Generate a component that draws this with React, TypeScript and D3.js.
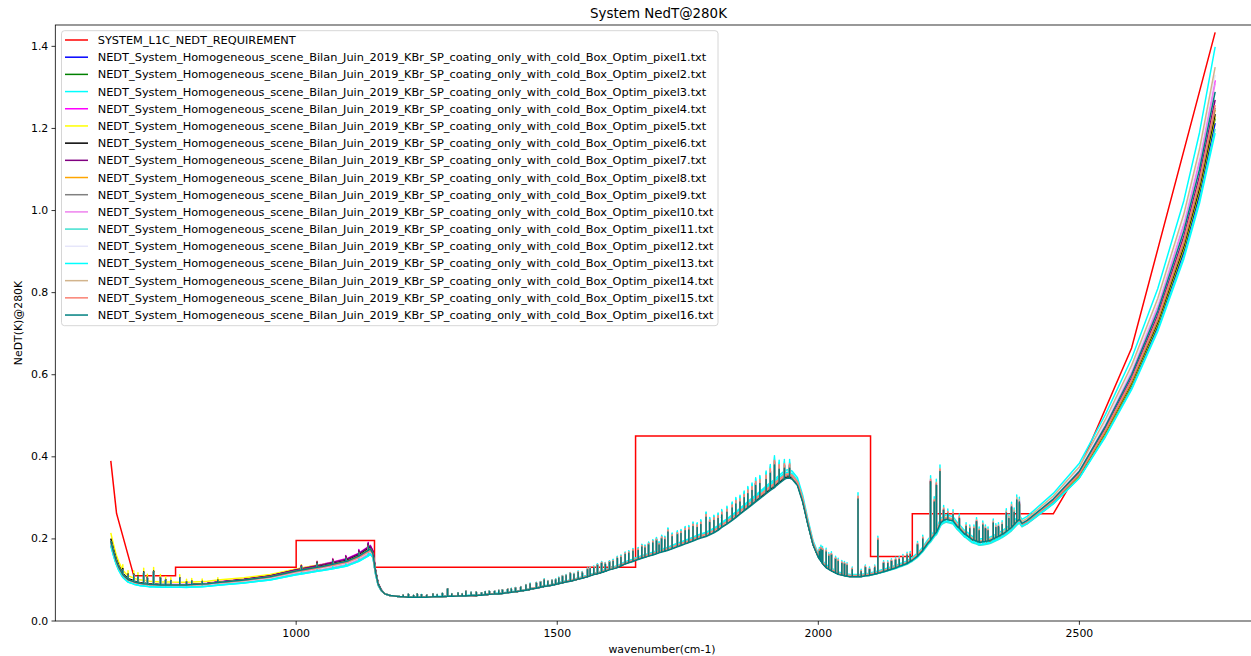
import React from "react";
import * as d3 from "d3";

// ---------- DATA ----------
const REQUIREMENT: [number, number][] = [
  [645, 0.39], [656, 0.262], [689, 0.11], [769, 0.11], [769, 0.131], [1000, 0.131],
  [1000, 0.196], [1150, 0.196], [1150, 0.131], [1650, 0.131], [1650, 0.451],
  [2100, 0.451], [2100, 0.157], [2180, 0.157], [2180, 0.261], [2450, 0.261],
  [2500, 0.37], [2600, 0.665], [2760, 1.434],
];

// smooth part of the pixel16 (teal) curve
const BASE: [number, number][] = [
  [645, 0.195], [650, 0.17], [655, 0.148], [660, 0.132], [665, 0.12], [672, 0.108],
  [680, 0.1], [690, 0.095], [700, 0.092], [720, 0.089], [740, 0.088], [760, 0.088],
  [780, 0.088], [800, 0.089], [830, 0.091], [860, 0.095], [900, 0.1], [950, 0.108],
  [1000, 0.122], [1050, 0.133], [1080, 0.141], [1100, 0.147], [1120, 0.158],
  [1135, 0.17], [1142, 0.176], [1147, 0.165], [1152, 0.12], [1157, 0.09],
  [1163, 0.075], [1170, 0.066], [1180, 0.062], [1200, 0.059], [1250, 0.058],
  [1300, 0.06], [1350, 0.063], [1400, 0.068], [1450, 0.078], [1500, 0.09],
  [1550, 0.105], [1600, 0.125], [1650, 0.148], [1700, 0.168], [1750, 0.19],
  [1800, 0.215], [1850, 0.26], [1900, 0.31], [1920, 0.33], [1940, 0.348],
  [1950, 0.345], [1960, 0.33], [1970, 0.29], [1980, 0.235], [1990, 0.185],
  [2000, 0.155], [2010, 0.137], [2025, 0.122], [2040, 0.113], [2060, 0.108],
  [2080, 0.108], [2100, 0.112], [2130, 0.122], [2160, 0.135], [2180, 0.148],
  [2195, 0.165], [2210, 0.19], [2225, 0.215], [2235, 0.24], [2245, 0.248],
  [2255, 0.245], [2265, 0.232], [2280, 0.212], [2295, 0.198], [2310, 0.192],
  [2330, 0.197], [2350, 0.21], [2370, 0.228], [2385, 0.248], [2390, 0.238],
  [2400, 0.245], [2450, 0.297], [2500, 0.365], [2550, 0.475], [2600, 0.6],
  [2650, 0.755], [2700, 0.95], [2730, 1.1], [2760, 1.289],
];

// absorption spikes on the teal curve: [wavenumber, foot, peak]
const SPIKES: [number, number, number][] = [
  [668, 0.113, 0.125], [678, 0.101, 0.112], [689, 0.096, 0.112], [697, 0.093, 0.108],
  [708, 0.091, 0.118], [715, 0.09, 0.105], [727, 0.089, 0.12], [740, 0.088, 0.105],
  [750, 0.088, 0.1], [760, 0.088, 0.098], [777, 0.088, 0.105], [790, 0.088, 0.095],
  [800, 0.089, 0.097], [820, 0.09, 0.096], [850, 0.094, 0.099],
  [1010, 0.124, 0.132], [1040, 0.131, 0.14], [1070, 0.138, 0.146], [1095, 0.145, 0.153],
  [1120, 0.158, 0.166], [1138, 0.172, 0.183],
  [1205, 0.059, 0.063], [1215, 0.058, 0.065], [1225, 0.058, 0.062], [1232, 0.058, 0.066],
  [1240, 0.058, 0.064], [1250, 0.058, 0.063], [1262, 0.059, 0.066], [1270, 0.059, 0.064],
  [1280, 0.059, 0.067], [1290, 0.06, 0.078], [1298, 0.06, 0.066], [1310, 0.061, 0.068],
  [1318, 0.061, 0.066], [1325, 0.061, 0.072], [1335, 0.062, 0.069], [1345, 0.062, 0.07],
  [1355, 0.063, 0.068], [1362, 0.064, 0.071], [1370, 0.065, 0.072], [1380, 0.066, 0.072],
  [1388, 0.066, 0.074], [1395, 0.067, 0.075], [1405, 0.069, 0.077], [1412, 0.07, 0.078],
  [1420, 0.071, 0.08], [1430, 0.073, 0.082], [1440, 0.075, 0.087], [1448, 0.077, 0.09],
  [1460, 0.08, 0.092], [1468, 0.082, 0.094], [1475, 0.084, 0.1], [1482, 0.085, 0.096],
  [1490, 0.087, 0.098], [1497, 0.089, 0.1], [1503, 0.091, 0.104], [1510, 0.093, 0.108],
  [1517, 0.095, 0.11], [1525, 0.097, 0.115], [1532, 0.099, 0.113], [1540, 0.102, 0.118],
  [1548, 0.104, 0.117], [1558, 0.108, 0.125], [1563, 0.11, 0.127], [1570, 0.113, 0.13],
  [1577, 0.115, 0.135], [1585, 0.118, 0.14], [1592, 0.121, 0.138], [1600, 0.125, 0.142],
  [1607, 0.127, 0.145], [1615, 0.13, 0.152], [1622, 0.134, 0.155], [1630, 0.139, 0.162],
  [1637, 0.142, 0.165], [1645, 0.145, 0.17], [1655, 0.15, 0.172], [1662, 0.153, 0.18],
  [1668, 0.155, 0.178], [1675, 0.158, 0.185], [1683, 0.161, 0.19], [1690, 0.164, 0.195],
  [1695, 0.166, 0.185], [1700, 0.168, 0.2], [1706, 0.17, 0.198], [1712, 0.172, 0.217],
  [1720, 0.176, 0.205], [1730, 0.181, 0.21], [1737, 0.184, 0.213], [1745, 0.188, 0.22],
  [1752, 0.191, 0.222], [1760, 0.195, 0.23], [1768, 0.199, 0.228], [1775, 0.202, 0.235],
  [1785, 0.206, 0.253], [1792, 0.21, 0.24], [1800, 0.215, 0.245], [1808, 0.221, 0.25],
  [1815, 0.228, 0.258], [1825, 0.236, 0.265], [1835, 0.245, 0.275], [1842, 0.252, 0.285],
  [1850, 0.26, 0.29], [1858, 0.268, 0.3], [1865, 0.275, 0.31], [1873, 0.283, 0.318],
  [1880, 0.29, 0.33], [1888, 0.298, 0.335], [1900, 0.31, 0.345], [1908, 0.318, 0.36],
  [1916, 0.325, 0.38], [1925, 0.335, 0.37], [1935, 0.345, 0.372], [1945, 0.348, 0.372],
  [2002, 0.151, 0.17], [2005, 0.146, 0.175], [2008, 0.14, 0.172], [2015, 0.13, 0.168],
  [2020, 0.126, 0.158], [2025, 0.122, 0.16], [2033, 0.117, 0.15], [2038, 0.114, 0.145],
  [2045, 0.112, 0.14], [2050, 0.11, 0.138], [2055, 0.109, 0.135], [2065, 0.108, 0.125],
  [2076, 0.108, 0.297], [2082, 0.108, 0.12], [2090, 0.11, 0.13], [2098, 0.111, 0.125],
  [2108, 0.114, 0.13], [2114, 0.116, 0.197], [2125, 0.12, 0.14], [2133, 0.123, 0.14],
  [2140, 0.126, 0.145], [2148, 0.129, 0.148], [2155, 0.133, 0.15], [2162, 0.136, 0.155],
  [2170, 0.14, 0.16], [2176, 0.145, 0.162], [2190, 0.158, 0.185], [2200, 0.172, 0.2],
  [2215, 0.197, 0.339], [2222, 0.21, 0.29], [2226, 0.215, 0.331], [2233, 0.235, 0.364],
  [2240, 0.245, 0.27], [2248, 0.247, 0.262], [2258, 0.244, 0.26], [2270, 0.226, 0.25],
  [2283, 0.21, 0.23], [2290, 0.203, 0.225], [2298, 0.197, 0.225], [2303, 0.195, 0.242],
  [2308, 0.192, 0.22], [2315, 0.193, 0.234], [2320, 0.194, 0.225], [2325, 0.195, 0.22],
  [2335, 0.2, 0.239], [2340, 0.203, 0.228], [2345, 0.206, 0.23], [2352, 0.211, 0.235],
  [2360, 0.218, 0.263], [2365, 0.223, 0.25], [2370, 0.228, 0.278], [2375, 0.235, 0.265],
  [2380, 0.242, 0.295], [2385, 0.248, 0.29],
];

// per-pixel ratio to the teal curve at these wavenumbers
const FACTOR_AT = [645, 800, 1140, 1170, 1900, 2300, 2400, 2550, 2760];
const PIXEL_FACTORS: number[][] = [
  [1.0, 1.0, 1.01, 1.0, 1.02, 1.0, 0.97, 0.955, 0.941],
  [1.0, 1.0, 1.01, 1.0, 1.02, 1.0, 0.975, 0.962, 0.95],
  [0.95, 0.93, 0.92, 1.0, 1.06, 1.04, 1.04, 1.06, 1.085],
  [1.0, 1.01, 1.05, 1.0, 1.02, 1.01, 1.01, 1.015, 1.022],
  [1.1, 1.07, 1.02, 1.0, 1.02, 1.0, 0.975, 0.965, 0.954],
  [1.03, 1.0, 1.03, 1.0, 1.01, 1.0, 0.98, 0.97, 0.958],
  [1.0, 1.0, 1.04, 1.0, 1.02, 1.0, 0.99, 0.988, 0.985],
  [1.0, 1.0, 1.0, 1.0, 1.02, 1.0, 0.98, 0.973, 0.966],
  [0.98, 0.98, 0.96, 1.0, 1.02, 1.0, 0.985, 0.978, 0.97],
  [0.98, 0.97, 0.95, 1.0, 1.03, 1.01, 1.005, 1.01, 1.016],
  [0.95, 0.94, 0.93, 1.0, 1.04, 0.96, 0.965, 0.95, 0.93],
  [0.98, 0.98, 0.97, 1.0, 1.03, 1.01, 1.01, 1.02, 1.032],
  [0.94, 0.93, 0.92, 1.0, 1.05, 0.97, 0.975, 0.945, 0.922],
  [0.99, 0.99, 0.98, 1.0, 1.03, 1.02, 1.02, 1.035, 1.047],
  [0.99, 0.99, 0.98, 1.0, 1.03, 1.01, 0.99, 0.982, 0.975],
  [1, 1, 1, 1, 1, 1, 1, 1, 1],
];
const PIXEL_COLORS = [
  "#0000ff", "#008000", "#00ffff", "#ff00ff", "#ffff00", "#000000", "#800080", "#ffa500",
  "#808080", "#ee82ee", "#40e0d0", "#e6e6fa", "#00ffff", "#d2b48c", "#fa8072", "#008080",
];
const REQ_LABEL = "SYSTEM_L1C_NEDT_REQUIREMENT";
const PIXEL_LABELS = PIXEL_COLORS.map(
  (_, i) => `NEDT_System_Homogeneous_scene_Bilan_Juin_2019_KBr_SP_coating_only_with_cold_Box_Optim_pixel${i + 1}.txt`
);
const X_TICKS = [1000, 1500, 2000, 2500];
const Y_TICKS = [0, 0.2, 0.4, 0.6, 0.8, 1.0, 1.2, 1.4];

// ---------- LAYOUT ----------
const W = 1251, H = 656;
const L = 55.3, R = 1270.4, T = 25, B = 621;
const FONT = "DejaVu Sans";

export default function App() {
  const x = d3.scaleLinear().domain([538.7, 2865.8]).range([L, R]);
  const y = d3.scaleLinear().domain([0, 1.452]).range([B, T]);
  const line = d3.line<[number, number]>().x(d => x(d[0])).y(d => y(d[1]));

  const merged = [
    ...BASE.map(([w, v]) => ({ w, v, o: 0 })),
    ...SPIKES.flatMap(([w, lo, hi]) => [
      { w, v: lo, o: 1 }, { w, v: hi, o: 2 }, { w, v: lo, o: 3 },
    ]),
  ].sort((a, b) => a.w - b.w || a.o - b.o);

  const series = PIXEL_FACTORS.map((f, i) => {
    const fs = d3.scaleLinear().domain(FACTOR_AT).range(f).clamp(true);
    const pts = merged.map(p => [p.w, p.v * fs(p.w)] as [number, number]);
    return { d: line(pts) || "", color: PIXEL_COLORS[i] };
  });

  const legendItems = [{ label: REQ_LABEL, color: "#ff0000" }, ...PIXEL_LABELS.map((l, i) => ({ label: l, color: PIXEL_COLORS[i] }))];

  return (
    <svg width={W} height={H} style={{ position: "absolute", left: 0, top: 0, background: "#fff" }} fontFamily={FONT}>
      <defs>
        <clipPath id="plotclip"><rect x={L} y={T} width={R - L} height={B - T} /></clipPath>
      </defs>
      <rect x={0} y={0} width={W} height={H} fill="#fff" />
      <g clipPath="url(#plotclip)">
        <path d={line(REQUIREMENT) || ""} fill="none" stroke="#ff0000" strokeWidth={1.5} />
        {series.map((s, i) => (
          <path key={i} d={s.d} fill="none" stroke={s.color} strokeWidth={1.5} strokeLinejoin="round" />
        ))}
      </g>
      {/* spines */}
      <rect x={L} y={T} width={R - L} height={B - T} fill="none" stroke="#000" strokeWidth={0.8} />
      {/* x ticks */}
      {X_TICKS.map(t => (
        <g key={t}>
          <line x1={x(t)} x2={x(t)} y1={B} y2={B + 3.8} stroke="#000" strokeWidth={0.8} />
          <text x={x(t)} y={B + 12} fontSize={10.9} textAnchor="middle" dominantBaseline="central" fill="#000">{t}</text>
        </g>
      ))}
      {/* y ticks */}
      {Y_TICKS.map(t => (
        <g key={t}>
          <line x1={L - 3.8} x2={L} y1={y(t)} y2={y(t)} stroke="#000" strokeWidth={0.8} />
          <text x={L - 7} y={y(t)} fontSize={10.9} textAnchor="end" dominantBaseline="central" fill="#000">{d3.format(".1f")(t)}</text>
        </g>
      ))}
      <text x={662} y={649} fontSize={10.9} textAnchor="middle" dominantBaseline="central">wavenumber(cm-1)</text>
      <text transform={`translate(18,${(T + B) / 2}) rotate(-90)`} fontSize={10.9} textAnchor="middle" dominantBaseline="central">NeDT(K)@280K</text>
      <text x={658.5} y={13.5} fontSize={13.4} textAnchor="middle" dominantBaseline="central">System NedT@280K</text>
      {/* legend */}
      <g>
        <rect x={61.5} y={30.7} width={656.5} height={295} rx={3} fill="#fff" fillOpacity={0.8} stroke="#cccccc" strokeWidth={0.8} />
        {legendItems.map((it, i) => {
          const cy = 40 + i * 17.19;
          return (
            <g key={i}>
              <line x1={65} x2={88} y1={cy} y2={cy} stroke={it.color} strokeWidth={1.5} />
              <text x={97.7} y={cy} fontSize={11.35} dominantBaseline="central" fill="#000">{it.label}</text>
            </g>
          );
        })}
      </g>
    </svg>
  );
}
